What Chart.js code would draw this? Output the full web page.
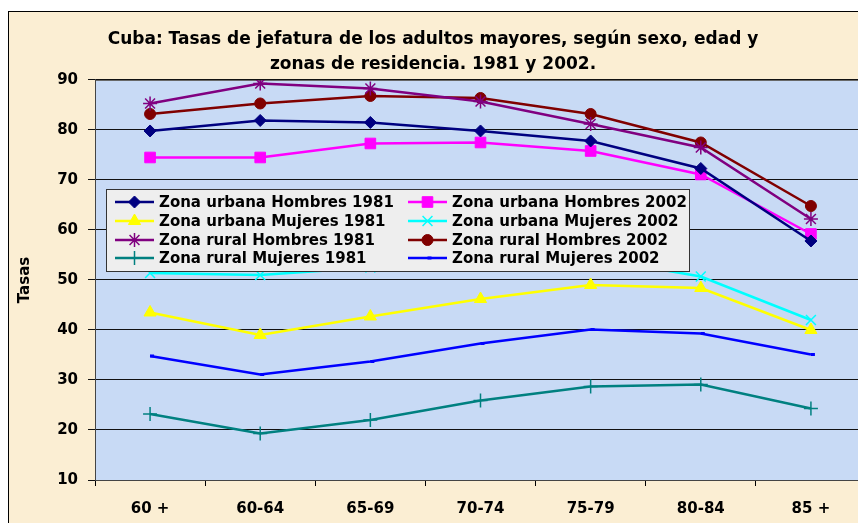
<!DOCTYPE html>
<html><head><meta charset="utf-8">
<script src="https://cdn.jsdelivr.net/npm/chart.js@4.4.1/dist/chart.umd.min.js"></script>
<style>
html,body{margin:0;padding:0;background:#fff;overflow:hidden;width:858px;height:523px}
#wrap{position:absolute;left:0;top:0;width:880px;height:523px}
</style>
</head><body><div id="wrap"><canvas id="c" width="880" height="523"></canvas></div>
<script>
const categories = ['60 +','60-64','65-69','70-74','75-79','80-84','85 +'];
const urbanaHombres1981 = [79.8,81.9,81.5,79.8,77.8,72.3,57.8];
const urbanaHombres2002 = [74.5,74.5,77.3,77.5,75.8,71.1,59.2];
const urbanaMujeres1981 = [43.5,39.0,42.7,46.2,49.0,48.4,40.0];
const urbanaMujeres2002 = [51.4,51.0,52.5,54.0,54.5,50.7,42.0];
const ruralHombres1981 = [85.3,89.3,88.3,85.7,81.2,76.5,62.2];
const ruralHombres2002 = [83.2,85.3,86.8,86.4,83.2,77.5,64.8];
const ruralMujeres1981 = [23.2,19.3,22.0,25.9,28.7,29.1,24.3];
const ruralMujeres2002 = [34.8,31.1,33.7,37.3,40.1,39.3,35.1];
const yMin = 10, yMax = 90, yStep = 10;
const titleLines = ['Cuba: Tasas de jefatura de los adultos mayores, según sexo, edad y','zonas de residencia. 1981 y 2002.'];
const yTitle = 'Tasas';
const seriesLabels = ['Zona urbana Hombres 1981','Zona urbana Hombres 2002','Zona urbana Mujeres 1981','Zona urbana Mujeres 2002','Zona rural Hombres 1981','Zona rural Hombres 2002','Zona rural Mujeres 1981','Zona rural Mujeres 2002'];

const FONT = '"DejaVu Sans", "Liberation Sans", Arial, sans-serif';

function ds(label, data, color, style, radius, bw) {
  return {
    label, data,
    borderColor: color, backgroundColor: color,
    pointStyle: style, pointRadius: radius, pointHoverRadius: radius,
    pointBorderColor: color, pointBackgroundColor: color,
    pointBorderWidth: bw || 1,
    borderWidth: 2.5, tension: 0, fill: false
  };
}

const datasets = [
  ds(seriesLabels[0], urbanaHombres1981, '#000080', 'rectRot', 6),
  ds(seriesLabels[1], urbanaHombres2002, '#FF00FF', 'rect', 7.5),
  ds(seriesLabels[2], urbanaMujeres1981, '#FFFF00', 'triangle', 7),
  ds(seriesLabels[3], urbanaMujeres2002, '#00FFFF', 'crossRot', 7, 1.5),
  ds(seriesLabels[4], ruralHombres1981, '#800080', 'star', 7, 1.5),
  ds(seriesLabels[5], ruralHombres2002, '#800000', 'circle', 5.5),
  ds(seriesLabels[6], ruralMujeres1981, '#008080', 'cross', 7, 1.5),
  ds(seriesLabels[7], ruralMujeres2002, '#0000FF', 'dash', 4, 3)
];

const bgPlugin = {
  id: 'bg',
  beforeDraw(chart) {
    const ctx = chart.ctx, a = chart.chartArea;
    ctx.save();
    ctx.fillStyle = '#ffffff';
    ctx.fillRect(0, 0, chart.width, chart.height);
    ctx.fillStyle = '#FBEED3';
    ctx.fillRect(8, 11, chart.width - 14, chart.height);
    ctx.strokeStyle = '#000';
    ctx.lineWidth = 1;
    ctx.strokeRect(8.5, 11.5, chart.width - 15, chart.height + 10);
    ctx.fillStyle = '#C8DAF5';
    ctx.fillRect(a.left, a.top, a.right - a.left, a.bottom - a.top);
    ctx.strokeStyle = '#666';
    ctx.strokeRect(a.left + 0.5, a.top + 0.5, a.right - a.left, a.bottom - a.top);
    ctx.restore();
  }
};

const legendPlugin = {
  id: 'boxLegend',
  afterDatasetsDraw(chart) {
    const ctx = chart.ctx;
    const x0 = 106, y0 = 189, x1 = 689, y1 = 271;
    ctx.save();
    ctx.fillStyle = '#EEEEEE';
    ctx.fillRect(x0, y0, x1 - x0, y1 - y0);
    ctx.strokeStyle = '#333';
    ctx.lineWidth = 1;
    ctx.strokeRect(x0 + 0.5, y0 + 0.5, x1 - x0, y1 - y0);
    ctx.font = 'bold 15px ' + FONT;
    ctx.textBaseline = 'middle';
    ctx.textAlign = 'left';
    const cols = [[115, 154, 159], [408, 447, 452]];
    const rows = [202, 221, 240, 258];
    chart.data.datasets.forEach((d, i) => {
      const c = cols[i % 2], y = rows[Math.floor(i / 2)];
      ctx.strokeStyle = d.borderColor;
      ctx.fillStyle = d.backgroundColor;
      ctx.lineWidth = 2.5;
      ctx.beginPath();
      ctx.moveTo(c[0], y); ctx.lineTo(c[1], y); ctx.stroke();
      ctx.lineWidth = d.pointBorderWidth;
      Chart.helpers.drawPoint(ctx, { pointStyle: d.pointStyle, radius: d.pointRadius, rotation: 0, borderWidth: d.pointBorderWidth }, (c[0] + c[1]) / 2, y);
      ctx.fillStyle = '#000';
      ctx.fillText(d.label, c[2], y + 1);
    });
    ctx.restore();
  }
};

new Chart(document.getElementById('c'), {
  type: 'line',
  data: { labels: categories, datasets },
  options: {
    responsive: false, animation: false, devicePixelRatio: 1,
    layout: { padding: { left: 0, right: 14, top: 0, bottom: 0 } },
    plugins: {
      legend: { display: false },
      tooltip: { enabled: false },
      title: {
        display: true, text: titleLines, color: '#000',
        font: { family: FONT, size: 17, weight: 'bold', lineHeight: 1.47 },
        padding: { top: 27, bottom: 3 }
      }
    },
    scales: {
      x: {
        offset: true,
        grid: { offset: true, drawOnChartArea: false, drawTicks: true, tickLength: 6, color: '#000' },
        border: { color: '#444', width: 1 },
        ticks: { color: '#000', font: { family: FONT, size: 15, weight: 'bold' }, padding: 14, maxRotation: 0 },
        afterFit(s) { s.height = 43; }
      },
      y: {
        min: yMin, max: yMax,
        grid: { color: '#111', tickLength: 7, drawTicks: true },
        border: { color: '#444', width: 1 },
        ticks: { stepSize: yStep, color: '#000', font: { family: FONT, size: 15, weight: 'bold' }, padding: 10 },
        title: { display: true, text: yTitle, color: '#000', font: { family: FONT, size: 15, weight: 'bold' }, padding: { top: 16, bottom: 0 } },
        afterFit(s) { s.width = 95; }
      }
    }
  },
  plugins: [bgPlugin, legendPlugin]
});
</script>
</body></html>
